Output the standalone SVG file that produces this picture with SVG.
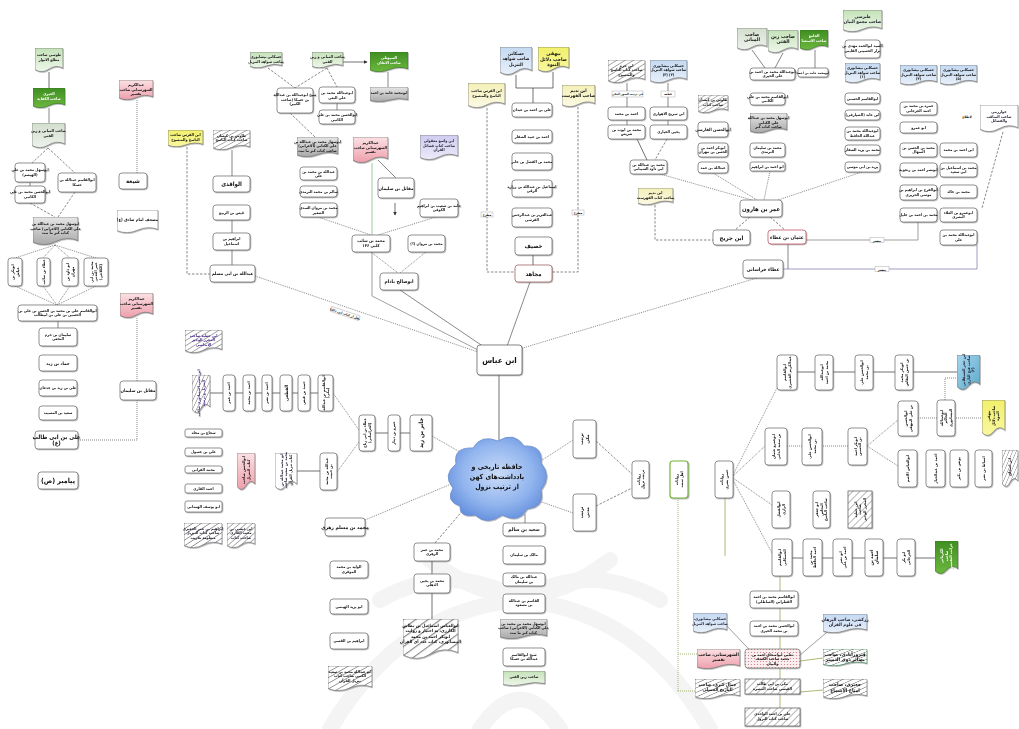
<svg xmlns="http://www.w3.org/2000/svg" width="1019" height="729" viewBox="0 0 1019 729">
<style>
.t{font-family:"DejaVu Sans Condensed","DejaVu Sans",sans-serif;font-size:3.8px;font-weight:bold;text-anchor:middle;fill:#111;direction:rtl}
.t45{font-size:4.5px}.t5{font-size:5px}.t6{font-size:6px}.t7{font-size:7px}.t8{font-size:8px}
.w{fill:#fff}.nv{fill:#223}.pu{fill:#4a2a8a}
.bx{fill:#fff;stroke:#666;stroke-width:.7}
.n{filter:url(#sh)}
.doc{stroke:#777;stroke-width:.7}
.lg{fill:url(#gLg)}.dg{fill:url(#gDg);stroke:#3d7a22}.gg{fill:url(#gGg)}.pk{fill:url(#gPk)}.yl{fill:url(#gYl)}.ly{fill:url(#gLy)}.lb{fill:url(#gLb)}.lv{fill:url(#gLv)}.gy{fill:url(#gGy)}.ht{fill:url(#hd)}.wh{fill:#fff}.cy{fill:url(#gCy)}
.hb{fill:url(#hb);stroke:#555;stroke-width:.7}
.pd{fill:url(#pd);stroke:#777;stroke-width:.7}
.lbl{fill:#fff;stroke:#999;stroke-width:.4}
.s{stroke:#333}.d{stroke-dasharray:2.5 1.5}.o{stroke-dasharray:1 1}.gd{stroke:#7a9a3a;stroke-dasharray:1 1}
</style>
<defs>
<filter id="sh" x="-20%" y="-20%" width="150%" height="150%"><feDropShadow dx=".8" dy=".8" stdDeviation=".4" flood-color="#777" flood-opacity=".6"/></filter>
<symbol id="doc" viewBox="0 0 100 100" preserveAspectRatio="none"><path d="M0,0H100V84Q75,68 50,88T0,90Z" vector-effect="non-scaling-stroke"/></symbol>
<pattern id="hd" width="16" height="16" patternUnits="userSpaceOnUse" patternTransform="rotate(45)"><rect width="16" height="16" fill="#fff"/><rect width="2.5" height="16" fill="#888"/></pattern>
<pattern id="hb" width="5" height="5" patternUnits="userSpaceOnUse" patternTransform="rotate(45)"><rect width="5" height="5" fill="#fff"/><rect width=".6" height="5" fill="#888"/></pattern>
<pattern id="pd" width="3" height="3" patternUnits="userSpaceOnUse"><rect width="3" height="3" fill="#fbeef0"/><circle cx="1.5" cy="1.5" r=".6" fill="#c77"/></pattern>
<linearGradient id="gLg" x1="0" y1="0" x2="0" y2="1"><stop offset="0" stop-color="#c4e2b8"/><stop offset="1" stop-color="#eef7ea"/></linearGradient>
<linearGradient id="gDg" x1="0" y1="0" x2="0" y2="1"><stop offset="0" stop-color="#3f8e22"/><stop offset="1" stop-color="#6cb83e"/></linearGradient>
<linearGradient id="gGg" x1="0" y1="0" x2="0" y2="1"><stop offset="0" stop-color="#d2dfcc"/><stop offset="1" stop-color="#eef2ec"/></linearGradient>
<linearGradient id="gPk" x1="0" y1="0" x2="0" y2="1"><stop offset="0" stop-color="#fbe1e4"/><stop offset="1" stop-color="#ee9fab"/></linearGradient>
<linearGradient id="gYl" x1="0" y1="0" x2="0" y2="1"><stop offset="0" stop-color="#f2f06a"/><stop offset="1" stop-color="#f8f7a0"/></linearGradient>
<linearGradient id="gLy" x1="0" y1="0" x2="0" y2="1"><stop offset="0" stop-color="#f5f0b8"/><stop offset="1" stop-color="#fbf9e4"/></linearGradient>
<linearGradient id="gLb" x1="0" y1="0" x2="0" y2="1"><stop offset="0" stop-color="#c4d9f2"/><stop offset="1" stop-color="#e8f0fa"/></linearGradient>
<linearGradient id="gLv" x1="0" y1="0" x2="0" y2="1"><stop offset="0" stop-color="#cfcbf0"/><stop offset="1" stop-color="#eceaf9"/></linearGradient>
<linearGradient id="gGy" x1="0" y1="0" x2="0" y2="1"><stop offset="0" stop-color="#e6e6e6"/><stop offset="1" stop-color="#a9a9a9"/></linearGradient>
<linearGradient id="gCy" x1="0" y1="0" x2="1" y2="1"><stop offset="0" stop-color="#a9d6f0"/><stop offset="1" stop-color="#5aa9c9"/></linearGradient>
<radialGradient id="gCl" cx=".5" cy=".45" r=".6"><stop offset="0" stop-color="#cadcf8"/><stop offset=".6" stop-color="#92b5ee"/><stop offset="1" stop-color="#5f8bdc"/></radialGradient>
<marker id="ar" markerWidth="4" markerHeight="4" refX="3.5" refY="2" orient="auto" markerUnits="userSpaceOnUse"><path d="M0,0L4,2L0,4Z" fill="#333"/></marker>
</defs>
<rect width="1019" height="729" fill="#fff"/>
<g id="watermark" fill="none" stroke="#f4f4f4" stroke-width="16" stroke-linecap="round">
<path d="M330,729Q400,610 520,600Q640,610 710,729"/>
<path d="M430,560Q520,630 610,560"/>
<path d="M480,729Q520,670 560,729"/>
<path d="M380,600Q450,560 520,600Q590,560 660,600"/>
</g>
<g id="connectors" fill="none" stroke="#555" stroke-width=".7">
<path class="s" d="M49,72V88"/>
<path d="M49,108V123" stroke="#888" stroke-width="1"/>
<path class="d" d="M48,148L32,163M48,148L75,173"/>
<path d="M30,182V186"/>
<path class="d" d="M30,203L55,217M75,192L58,217"/>
<path class="o" d="M55,245L15,258M55,245L43,258M55,245L70,258M55,245L96,258"/>
<path class="o" d="M15,286L57,305M43,286L57,305M70,286L57,305M96,286L57,305"/>
<path d="M58,321V328"/>
<path class="o" d="M137,100V173M137,318V381M137,400V440H78"/>
<path class="d" d="M187,147V274H210"/>
<path d="M232,150V176M232,220V233M232,250V265"/>
<path class="o" d="M255,276L478,352"/>
<path class="d" d="M268,68L295,88M327,68L295,88M327,68L337,87"/>
<path class="s" d="M343,62H367" marker-end="url(#ar)"/>
<path d="M388,72V87"/>
<path d="M337,103V110"/>
<path class="d" d="M290,113L315,137"/>
<path class="o" d="M318,217L371,235M436,217L378,235"/>
<path stroke="#9c9" stroke-width="1" d="M372,163V235"/>
<path stroke="#777" d="M372,252V296L480,351"/>
<path d="M378,160L396,178"/>
<path class="s" d="M395,203V215" marker-end="url(#ar)"/>
<path class="o" d="M371,252L398,273M426,252L400,273"/>
<path d="M400,290L487,349"/>
<path class="d" d="M487,108V272H515M578,107V272H552"/>
<path class="s" d="M516,75V88H533V103M553,72V88H533"/>
<path class="s" d="M533,255V265"/>
<path d="M530,282L506,349"/>
<path class="o" d="M757,278L516,350"/>
<path d="M627,83V91M627,97V107M668,83V91M668,97V107M627,120V125M668,120V125"/>
<path class="s" d="M637,139L647,160"/>
<path class="d" d="M667,139L655,160"/>
<path class="o" d="M660,174L752,200M713,173L757,200M770,171L764,200M862,172L778,200"/>
<path class="d" d="M655,205V240H713"/>
<path class="d" d="M750,217L735,230M770,217L785,230"/>
<path d="M752,50L765,68M783,53L775,68M815,50V68M795,73H798"/>
<path d="M788,244V269"/>
<path stroke="#77a" d="M783,269H977V245"/>
<path stroke="#777" d="M806,240H918V222"/>
<path class="d" d="M1003,132L982,208"/>
<path class="s" d="M499,375V441"/>
<path class="s" d="M210,393H318"/>
<path class="o" d="M333,393L359,430"/>
<path class="s" d="M375,433H410"/>
<path class="o" d="M432,436L460,452"/>
<path class="s" d="M297,471H320"/>
<path class="o" d="M337,472L359,442"/>
<path class="o" d="M365,520L456,482"/>
<path class="d" d="M435,543L470,502"/>
<path class="s" d="M432,561V619"/>
<path d="M525,514V523"/>
<path class="o" d="M530,468L573,440M536,500L573,513"/>
<path class="d" d="M596,441L632,474M596,506L632,488"/>
<path class="gd" d="M678,498V692M678,654H697M678,691H695"/>
<path stroke="#8a9a3a" d="M725,498V556"/>
<path class="o" d="M733,475L777,388M733,476L765,446M733,478L772,505M733,480L772,553"/>
<path class="s" d="M797,372H957"/>
<path class="o" d="M787,446H848M867,446L898,420M867,446L898,466"/>
<path class="o" d="M918,418H982M945,400V378H957"/>
<path class="s" d="M792,558H935"/>
<path stroke="#8a9a3a" d="M780,576V708"/>
<path stroke="#8a9a3a" d="M800,661L823,658M800,692L823,690"/>
<path stroke="#777" d="M800,655L832,628M727,626L760,661"/>
</g>
<g id="labels">
<g transform="rotate(18.5 345 314)"><rect class="lbl" x="330" y="311" width="30" height="5"/><text class="t" x="345" y="315" style="font-size:3.3px">نقل از کتاب ابی ذکلیا</text></g>
<rect class="lbl" x="481" y="212" width="12" height="5"/><text class="t" x="487" y="216" style="font-size:3.3px">مطرح</text>
<rect class="lbl" x="572" y="210" width="12" height="5"/><text class="t" x="578" y="214" style="font-size:3.3px">مطرح</text>
<rect class="lbl" x="870" y="237.5" width="14" height="5"/><text class="t" x="877" y="241.5" style="font-size:3.3px">بیشتر</text>
<rect class="lbl" x="875" y="266.5" width="14" height="5"/><text class="t" x="882" y="270.5" style="font-size:3.3px">بیشتر</text>
<rect class="lbl" x="612" y="91" width="31" height="6"/><text class="t" x="627.5" y="95.3" style="font-size:3px">فی ترتیب السور المکی</text>
<rect class="lbl" x="661" y="91" width="14" height="6"/><text class="t" x="668" y="95.3" style="font-size:3px">قطعه</text>
<text class="t" x="967" y="117.5" style="font-size:3.3px">لاطلاع</text>
</g>
<g id="n1" class="n"><use href="#doc" x="35" y="48" width="28" height="24" class="doc lg"/><text class="t" x="49" y="56"><tspan x="49">طوسی صاحب</tspan><tspan x="49" dy="4.5">مطلع الانوار</tspan></text></g>
<g id="n2" class="n"><use href="#doc" x="33" y="88" width="32" height="20" class="doc dg"/><text class="t w" x="49" y="95"><tspan x="49">الحیری</tspan><tspan x="49" dy="4.5">صاحب الکفایة</tspan></text></g>
<g id="n3" class="n"><use href="#doc" x="32" y="123" width="33" height="25" class="doc gg"/><text class="t" x="48.5" y="132"><tspan x="48.5">صاحب المبانی و زین</tspan><tspan x="48.5" dy="4.5">الفتی</tspan></text></g>
<g id="n4" class="n"><rect class="bx" x="15" y="163" width="30" height="19" rx="3"/><text class="t" x="30" y="171"><tspan x="30">ابوسهل محمد بن علی</tspan><tspan x="30" dy="4.5">(الهیصم)</tspan></text></g>
<g id="n5" class="n"><rect class="bx" x="15" y="186" width="30" height="17" rx="3"/><text class="t" x="30" y="193"><tspan x="30">ابوالحسن محمد بن علی</tspan><tspan x="30" dy="4.5">الکاتبی</tspan></text></g>
<g id="n6" class="n"><rect class="bx" x="58" y="173" width="38" height="19" rx="3"/><text class="t" x="77" y="181"><tspan x="77">ابوالقاسم عبدالله بن</tspan><tspan x="77" dy="4.5">حسکا</tspan></text></g>
<g id="n7" class="n"><use href="#doc" x="33" y="217" width="45" height="28" class="doc gy"/><text class="t" x="55.5" y="225"><tspan x="55.5">ابوسهل محمد بن عبدالله بن</tspan><tspan x="55.5" dy="4.5">علی الکتانی (الاعرابی) صاحب</tspan><tspan x="55.5" dy="4.5">کتاب کنز ما ثبت</tspan></text></g>
<g id="n8" class="n"><rect class="bx" x="8" y="258" width="14" height="28" rx="3"/><text class="t" transform="rotate(-90 15 272)" x="15" y="271"><tspan x="15">ابوبکر بن</tspan><tspan x="15" dy="4.5">عیاش</tspan></text></g>
<g id="n9" class="n"><rect class="bx" x="37" y="258" width="13" height="28" rx="3"/><text class="t" transform="rotate(-90 43.5 272)" x="43.5" y="273.3">عطاء بن سائب</text></g>
<g id="n10" class="n"><rect class="bx" x="62" y="258" width="16" height="28" rx="3"/><text class="t" transform="rotate(-90 70 272)" x="70" y="271"><tspan x="70">ابو داود بن</tspan><tspan x="70" dy="4.5">مهران</tspan></text></g>
<g id="n11" class="n"><rect class="bx" x="84" y="258" width="24" height="28" rx="3"/><text class="t" transform="rotate(-90 96 272)" x="96" y="268.8"><tspan x="96">محمد بن ابی</tspan><tspan x="96" dy="4.5">عمر العدنی</tspan><tspan x="96" dy="4.5">(الکلاعی)</tspan></text></g>
<g id="n12" class="n"><rect class="bx" x="18" y="305" width="79" height="16" rx="3"/><text class="t" x="57.5" y="311.5"><tspan x="57.5">ابوالقاسم علی بن محمد بن الحسن بن علی بن</tspan><tspan x="57.5" dy="4.5">الحسین بن علی بن ابیطالب</tspan></text></g>
<g id="n13" class="n"><rect class="bx" x="39" y="328" width="38" height="18" rx="3"/><text class="t" x="58" y="335.5"><tspan x="58">سلیمان بن حرم</tspan><tspan x="58" dy="4.5">النخعی</tspan></text></g>
<g id="n14" class="n"><rect class="bx" x="39" y="355" width="38" height="16" rx="3"/><text class="t t45" x="58" y="364.5">حماد بن زید</text></g>
<g id="n15" class="n"><rect class="bx" x="39" y="380" width="38" height="16" rx="3"/><text class="t" x="58" y="389.3">علی بن زید بن جدعان</text></g>
<g id="n16" class="n"><rect class="bx" x="39" y="406" width="38" height="14" rx="3"/><text class="t" x="58" y="414.3">سعید بن المسیب</text></g>
<g id="n17" class="n"><rect class="bx" x="35" y="431" width="43" height="18" rx="3"/><text class="t t6" x="56.5" y="438.5"><tspan x="56.5">علی بن ابی طالب</tspan><tspan x="56.5" dy="6.5">(ع)</tspan></text></g>
<g id="n18" class="n"><rect class="bx" x="38" y="472" width="40" height="17" rx="3"/><text class="t t7" x="58" y="483">پیامبر (ص)</text></g>
<g id="n19" class="n"><use href="#doc" x="119" y="80" width="34" height="20" class="doc pk"/><text class="t" x="136" y="86"><tspan x="136">عبدالکریم</tspan><tspan x="136" dy="4.5">الشهرستانی صاحب</tspan><tspan x="136" dy="4.5">تفسیر</tspan></text></g>
<g id="n20" class="n"><rect class="bx" x="119" y="173" width="28" height="16" rx="3"/><text class="t t6" x="133" y="183">شیعة</text></g>
<g id="n21" class="n"><use href="#doc" x="117" y="210" width="41" height="23" class="doc wh"/><text class="t" x="137.5" y="220.5" style="font-size:4.2px">مصحف امام صادق (ع)</text></g>
<g id="n22" class="n"><use href="#doc" x="120" y="293" width="33" height="25" class="doc pk"/><text class="t" x="136.5" y="300"><tspan x="136.5">عبدالکریم</tspan><tspan x="136.5" dy="4.5">الشهرستانی صاحب</tspan><tspan x="136.5" dy="4.5">تفسیر</tspan></text></g>
<g id="n23" class="n"><rect class="bx" x="120" y="381" width="36" height="19" rx="3"/><text class="t t45" x="138" y="392">مقاتل بن سلیمان</text></g>
<g id="n24" class="n"><use href="#doc" x="168" y="130" width="35" height="17" class="doc yl"/><text class="t" x="185.5" y="136"><tspan x="185.5">ابن الفرس صاحب</tspan><tspan x="185.5" dy="4.5">الناسخ والمنسوخ</tspan></text></g>
<g id="n25" class="n"><use href="#doc" x="213" y="130" width="37" height="20" class="doc ht"/><text class="t" x="231.5" y="136.5"><tspan x="231.5">طاوس بن کیسان</tspan><tspan x="231.5" dy="4.5">صاحب کتاب الناسخ</tspan></text></g>
<g id="n26" class="n"><rect class="bx" x="213" y="176" width="37" height="16" rx="3"/><text class="t t6" x="231.5" y="186.3">الواقدی</text></g>
<g id="n27" class="n"><rect class="bx" x="213" y="205" width="37" height="15" rx="3"/><text class="t" x="231.5" y="213.8">قیس بن الربیع</text></g>
<g id="n28" class="n"><rect class="bx" x="213" y="233" width="37" height="17" rx="3"/><text class="t" x="231.5" y="240"><tspan x="231.5">ابراهیم بن</tspan><tspan x="231.5" dy="4.5">اسماعیل</tspan></text></g>
<g id="n29" class="n"><rect class="bx" x="210" y="265" width="45" height="17" rx="3"/><text class="t t45" x="232.5" y="275">عبدالله بن ابی مسلم</text></g>
<g id="n30" class="n"><use href="#doc" x="250" y="52" width="32" height="16" class="doc lg"/><text class="t" x="266" y="58"><tspan x="266">حسکانی نیشابوری</tspan><tspan x="266" dy="4.5">صاحب شواهد التنزیل</tspan></text></g>
<g id="n31" class="n"><use href="#doc" x="312" y="52" width="31" height="16" class="doc lg"/><text class="t" x="327.5" y="58"><tspan x="327.5">صاحب المبانی و زین</tspan><tspan x="327.5" dy="4.5">الفتی</tspan></text></g>
<g id="n32" class="n"><use href="#doc" x="370" y="52" width="38" height="20" class="doc dg"/><text class="t w" x="389" y="59"><tspan x="389">السیوطی</tspan><tspan x="389" dy="4.5">صاحب الاتقان</tspan></text></g>
<g id="n33" class="n"><use href="#doc" x="370" y="87" width="38" height="15" class="doc gy"/><text class="t" x="389" y="94">ابومحمد حامد بن احمد</text></g>
<g id="n34" class="n"><rect class="bx" x="277" y="88" width="36" height="25" rx="3"/><text class="t" x="295" y="96"><tspan x="295">شیخ ابوعبدالله بن عبدالله</tspan><tspan x="295" dy="4.5">بن حسکا (صاحب</tspan><tspan x="295" dy="4.5">الکبیر)</tspan></text></g>
<g id="n35" class="n"><rect class="bx" x="319" y="87" width="36" height="16" rx="3"/><text class="t" x="337" y="94"><tspan x="337">ابوعبدالله محمد بن</tspan><tspan x="337" dy="4.5">علی البغی</tspan></text></g>
<g id="n36" class="n"><rect class="bx" x="319" y="110" width="36" height="14" rx="3"/><text class="t" x="337" y="116"><tspan x="337">ابوالحسن محمد بن علی</tspan><tspan x="337" dy="4.5">الکاتبی</tspan></text></g>
<g id="n37" class="n"><use href="#doc" x="297" y="137" width="41" height="20" class="doc gy"/><text class="t" x="317.5" y="142.5"><tspan x="317.5">ابوسهل محمد بن عبدالله بن</tspan><tspan x="317.5" dy="4.5">علی الکتانی (الاعرابی)</tspan><tspan x="317.5" dy="4.5">صاحب کتاب کنز ما ثبت</tspan></text></g>
<g id="n38" class="n"><rect class="bx" x="300" y="167" width="37" height="13" rx="3"/><text class="t" x="318.5" y="172.5"><tspan x="318.5">عبدالله بن محمد بن</tspan><tspan x="318.5" dy="4.2">علی</tspan></text></g>
<g id="n39" class="n"><rect class="bx" x="300" y="186" width="37" height="11" rx="3"/><text class="t" x="318.5" y="192.8">سالم بن محمد الترمذی</text></g>
<g id="n40" class="n"><rect class="bx" x="300" y="203" width="37" height="14" rx="3"/><text class="t" x="318.5" y="209"><tspan x="318.5">محمد بن مروان السدی</tspan><tspan x="318.5" dy="4.5">الصغیر</tspan></text></g>
<g id="n41" class="n"><use href="#doc" x="353" y="137" width="35" height="26" class="doc pk"/><text class="t" x="370.5" y="144"><tspan x="370.5">عبدالکریم</tspan><tspan x="370.5" dy="4.5">الشهرستانی صاحب</tspan><tspan x="370.5" dy="4.5">تفسیر</tspan></text></g>
<g id="n42" class="n"><use href="#doc" x="420" y="135" width="38" height="25" class="doc lv"/><text class="t nv" x="439" y="142"><tspan x="439">ابن واسع معقولی</tspan><tspan x="439" dy="4.5">صاحب کتاب فضائل</tspan><tspan x="439" dy="4.5">القرآن</tspan></text></g>
<g id="n43" class="n"><rect class="bx" x="378" y="178" width="36" height="20" rx="3"/><text class="t t45" x="396" y="189.5">مقاتل بن سلیمان</text></g>
<g id="n44" class="n"><rect class="bx" x="420" y="199" width="38" height="18" rx="3"/><text class="t" x="439" y="206.5"><tspan x="439">حامد بن شعیب بن ابراهیم</tspan><tspan x="439" dy="4.5">الکوفی</tspan></text></g>
<g id="n45" class="n"><rect class="bx" x="352" y="235" width="38" height="17" rx="3"/><text class="t" x="371" y="242" style="font-size:4.2px"><tspan x="371">محمد بن سائب</tspan><tspan x="371" dy="4.7">کلبی ۱۴۶</tspan></text></g>
<g id="n46" class="n"><rect class="bx" x="408" y="235" width="37" height="17" rx="3"/><text class="t" x="426.5" y="244.8">محمد بن مروان (؟)</text></g>
<g id="n47" class="n"><rect class="bx" x="380" y="273" width="38" height="17" rx="3"/><text class="t t5" x="399" y="283.3">ابوصالح باذام</text></g>
<g id="n48" class="n"><use href="#doc" x="468" y="83" width="37" height="25" class="doc ly"/><text class="t" x="486.5" y="92"><tspan x="486.5">ابن الفرس صاحب</tspan><tspan x="486.5" dy="4.5">الناسخ والمنسوخ</tspan></text></g>
<g id="n49" class="n"><use href="#doc" x="500" y="47" width="32" height="28" class="doc lb"/><text class="t t45" x="516" y="55"><tspan x="516">حسکانی</tspan><tspan x="516" dy="5.3">صاحب شواهد</tspan><tspan x="516" dy="5.3">التنزیل</tspan></text></g>
<g id="n50" class="n"><use href="#doc" x="538" y="47" width="31" height="25" class="doc yl"/><text class="t t5" x="553.5" y="55"><tspan x="553.5">بیهقی</tspan><tspan x="553.5" dy="5.5">صاحب دلائل</tspan><tspan x="553.5" dy="5.5">النبوة</tspan></text></g>
<g id="n51" class="n"><use href="#doc" x="562" y="85" width="33" height="22" class="doc ly"/><text class="t t45" x="578.5" y="92"><tspan x="578.5">ابن ندیم</tspan><tspan x="578.5" dy="5">صاحب الفهرست</tspan></text></g>
<g id="n52" class="n"><rect class="bx" x="512" y="103" width="40" height="14" rx="3"/><text class="t" x="532" y="111.3">علی بن احمد بن عبدان</text></g>
<g id="n53" class="n"><rect class="bx" x="512" y="130" width="40" height="13" rx="3"/><text class="t" x="532" y="137.8">احمد بن عبید الصفار</text></g>
<g id="n54" class="n"><rect class="bx" x="512" y="153" width="40" height="17" rx="3"/><text class="t" x="532" y="162.8">محمد بن الفضل بن جابر</text></g>
<g id="n55" class="n"><rect class="bx" x="512" y="180" width="40" height="17" rx="3"/><text class="t" x="532" y="187.5"><tspan x="532">اسماعیل بن عبدالله بن زرارة</tspan><tspan x="532" dy="4.5">الرقی</tspan></text></g>
<g id="n56" class="n"><rect class="bx" x="512" y="208" width="40" height="19" rx="3"/><text class="t" x="532" y="216"><tspan x="532">عبدالعزیز بن عبدالرحمن</tspan><tspan x="532" dy="4.5">القرشی</tspan></text></g>
<g id="n57" class="n"><rect class="bx" x="515" y="237" width="37" height="18" rx="3"/><text class="t t6" x="533.5" y="248">خصیف</text></g>
<g id="n58" class="n"><rect class="bx" x="515" y="265" width="37" height="17" rx="3" style="stroke:#955"/><text class="t t6" x="533.5" y="275.5">مجاهد</text></g>
<g id="n59" class="n"><use href="#doc" x="608" y="60" width="37" height="23" class="doc ht"/><text class="t" x="626.5" y="66.5"><tspan x="626.5">ابن حزم</tspan><tspan x="626.5" dy="4.5">صاحب کتاب الناسخ</tspan><tspan x="626.5" dy="4.5">والمنسوخ</tspan></text></g>
<g id="n60" class="n"><use href="#doc" x="650" y="60" width="37" height="23" class="doc lb"/><text class="t" x="668.5" y="66.5"><tspan x="668.5">حسکانی نیشابوری</tspan><tspan x="668.5" dy="4.5">صاحب شواهد التنزیل</tspan><tspan x="668.5" dy="4.5">(۲) (۳)</tspan></text></g>
<g id="n61" class="n"><rect class="bx" x="608" y="107" width="37" height="13" rx="3"/><text class="t" x="626.5" y="114.8">احمد بن محمد</text></g>
<g id="n62" class="n"><rect class="bx" x="608" y="125" width="37" height="14" rx="3"/><text class="t" x="626.5" y="130.5"><tspan x="626.5">محمد بن ایوب بن</tspan><tspan x="626.5" dy="4.5">ضریس</tspan></text></g>
<g id="n63" class="n"><rect class="bx" x="650" y="107" width="37" height="13" rx="3"/><text class="t" x="668.5" y="114.8">ابن سریج الاهوازی</text></g>
<g id="n64" class="n"><rect class="bx" x="650" y="125" width="37" height="14" rx="3"/><text class="t" x="668.5" y="133.3">یحیی الجیاری</text></g>
<g id="n65" class="n"><rect class="bx" x="630" y="160" width="37" height="14" rx="3"/><text class="t" x="648.5" y="165.5"><tspan x="648.5">محمد بن عبدالله بن</tspan><tspan x="648.5" dy="4.5">ابی داود الشیبانی</tspan></text></g>
<g id="n66" class="n"><use href="#doc" x="698" y="95" width="30" height="18" class="doc ht"/><text class="t" x="713" y="101"><tspan x="713">طاوس بن کیسان</tspan><tspan x="713" dy="4.5">صاحب کتاب</tspan></text></g>
<g id="n67" class="n"><rect class="bx" x="698" y="122" width="30" height="15" rx="3"/><text class="t" x="713" y="131" style="font-size:4.2px">ابوالحسن الفارسی</text></g>
<g id="n68" class="n"><rect class="bx" x="698" y="143" width="30" height="14" rx="3"/><text class="t" x="713" y="148.5"><tspan x="713">ابوبکر احمد بن</tspan><tspan x="713" dy="4.5">الحسن بن مهران</tspan></text></g>
<g id="n69" class="n"><rect class="bx" x="698" y="162" width="30" height="11" rx="3"/><text class="t" x="713" y="168.8">عبدالله بن حمد</text></g>
<g id="n70" class="n"><use href="#doc" x="638" y="188" width="35" height="17" class="doc ly"/><text class="t" x="655.5" y="194"><tspan x="655.5">ابن ندیم</tspan><tspan x="655.5" dy="4.5">صاحب کتاب الفهرست</tspan></text></g>
<g id="n71" class="n"><use href="#doc" x="737" y="28" width="30" height="22" class="doc gg"/><text class="t t5" x="752" y="35.5"><tspan x="752">صاحب</tspan><tspan x="752" dy="5.5">المبانی</tspan></text></g>
<g id="n72" class="n"><use href="#doc" x="768" y="30" width="30" height="23" class="doc lg"/><text class="t t5" x="783" y="37.5"><tspan x="783">صاحب زین</tspan><tspan x="783" dy="5.5">الفتی</tspan></text></g>
<g id="n73" class="n"><use href="#doc" x="800" y="30" width="28" height="20" class="doc dg"/><text class="t w" x="814" y="37"><tspan x="814">الجامع</tspan><tspan x="814" dy="4.5">صاحب الاستغنا</tspan></text></g>
<g id="n74" class="n"><rect class="bx" x="750" y="68" width="45" height="12" rx="3"/><text class="t" x="772.5" y="72.6"><tspan x="772.5">ابوعبدالله محمد بن احمد بن</tspan><tspan x="772.5" dy="4.3">علی الحیری</tspan></text></g>
<g id="n75" class="n"><rect class="bx" x="798" y="68" width="30" height="9" rx="2"/><text class="t" x="813" y="73.8" style="font-size:3.3px">ابومحمد حامد بن احمد</text></g>
<g id="n76" class="n"><rect class="bx" x="750" y="93" width="35" height="12" rx="3"/><text class="t" x="767.5" y="97.8"><tspan x="767.5">ابوالقاسم محمد بن علی</tspan><tspan x="767.5" dy="4.3">الکاتبی</tspan></text></g>
<g id="n77" class="n"><use href="#doc" x="750" y="113" width="37" height="20" class="doc gy"/><text class="t" x="768.5" y="119"><tspan x="768.5">ابوسهل محمد بن عبدالله</tspan><tspan x="768.5" dy="4.5">علی الکتانی</tspan><tspan x="768.5" dy="4.5">صاحب کتاب کنز</tspan></text></g>
<g id="n78" class="n"><rect class="bx" x="750" y="143" width="35" height="14" rx="3"/><text class="t" x="767.5" y="148.5"><tspan x="767.5">محمد بن سلیمان</tspan><tspan x="767.5" dy="4.5">الترمذی</tspan></text></g>
<g id="n79" class="n"><rect class="bx" x="750" y="162" width="35" height="9" rx="2"/><text class="t" x="767.5" y="167.8">ابو احمد بن ابراهیم</text></g>
<g id="n80" class="n"><rect class="bx" x="740" y="200" width="42" height="17" rx="3"/><text class="t t6" x="761" y="210.5">عمر بن هارون</text></g>
<g id="n81" class="n"><rect class="bx" x="713" y="230" width="37" height="15" rx="3"/><text class="t t6" x="731.5" y="239.8">ابن جریج</text></g>
<g id="n82" class="n"><rect class="bx" x="768" y="230" width="38" height="14" rx="3" style="stroke:#b45"/><text class="t t5" x="787" y="239">عثمان بن عطاء</text></g>
<g id="n83" class="n"><rect class="bx" x="743" y="260" width="40" height="18" rx="3"/><text class="t t5" x="763" y="270.8">عطاء خراسانی</text></g>
<g id="n84" class="n"><use href="#doc" x="843" y="10" width="39" height="22" class="doc lg"/><text class="t t45 nv" x="862.5" y="17.5"><tspan x="862.5">طبرسی</tspan><tspan x="862.5" dy="5">صاحب مجمع البیان</tspan></text></g>
<g id="n85" class="n"><rect class="bx" x="845" y="40" width="35" height="18" rx="3"/><text class="t" x="862.5" y="47"><tspan x="862.5">السید ابوالحمد مهدی بن</tspan><tspan x="862.5" dy="4.5">نزار الحسینی القاینی</tspan></text></g>
<g id="n86" class="n"><use href="#doc" x="845" y="63" width="35" height="20" class="doc lb"/><text class="t" x="862.5" y="69"><tspan x="862.5">حسکانی نیشابوری</tspan><tspan x="862.5" dy="4.5">صاحب شواهد التنزیل</tspan><tspan x="862.5" dy="4.5">(۱)</tspan></text></g>
<g id="n87" class="n"><rect class="bx" x="845" y="93" width="35" height="11" rx="3"/><text class="t" x="862.5" y="99.8">ابوالقاسم الحسنی</text></g>
<g id="n88" class="n"><rect class="bx" x="845" y="110" width="35" height="10" rx="3"/><text class="t" x="862.5" y="116.3">ابن عابد (الصیارفی)</text></g>
<g id="n89" class="n"><rect class="bx" x="845" y="127" width="35" height="13" rx="3"/><text class="t" x="862.5" y="132.3"><tspan x="862.5">ابوعبدالله محمد بن</tspan><tspan x="862.5" dy="4.3">عبدالله الحافظ</tspan></text></g>
<g id="n90" class="n"><rect class="bx" x="845" y="145" width="35" height="10" rx="3"/><text class="t" x="862.5" y="151.3">محمد بن یزید الصفار</text></g>
<g id="n91" class="n"><rect class="bx" x="845" y="162" width="35" height="10" rx="3"/><text class="t" x="862.5" y="168.3">یزید بن ابی موسی</text></g>
<g id="n92" class="n"><use href="#doc" x="900" y="65" width="37" height="20" class="doc lb"/><text class="t" x="918.5" y="71"><tspan x="918.5">حسکانی نیشابوری</tspan><tspan x="918.5" dy="4.5">صاحب شواهد التنزیل</tspan><tspan x="918.5" dy="4.5">(۴)</tspan></text></g>
<g id="n93" class="n"><use href="#doc" x="940" y="65" width="37" height="20" class="doc lb"/><text class="t" x="958.5" y="71"><tspan x="958.5">حسکانی نیشابوری</tspan><tspan x="958.5" dy="4.5">صاحب شواهد التنزیل</tspan><tspan x="958.5" dy="4.5">(۵)</tspan></text></g>
<g id="n94" class="n"><rect class="bx" x="900" y="102" width="37" height="13" rx="3"/><text class="t" x="918.5" y="107.3"><tspan x="918.5">حمزة بن محمد بن</tspan><tspan x="918.5" dy="4.3">احمد الجرجانی</tspan></text></g>
<g id="n95" class="n"><rect class="bx" x="900" y="122" width="37" height="11" rx="3"/><text class="t" x="918.5" y="128.8">ابو عمرو</text></g>
<g id="n96" class="n"><rect class="bx" x="900" y="143" width="37" height="14" rx="3"/><text class="t" x="918.5" y="148.5"><tspan x="918.5">محمد بن الحسن بن</tspan><tspan x="918.5" dy="4.5">المنهال</tspan></text></g>
<g id="n97" class="n"><rect class="bx" x="900" y="163" width="37" height="14" rx="3"/><text class="t" x="918.5" y="171.3">ابونصر احمد بن زنجویه</text></g>
<g id="n98" class="n"><rect class="bx" x="900" y="185" width="37" height="15" rx="3"/><text class="t" x="918.5" y="191"><tspan x="918.5">ابوالفرج بن ابراهیم بن</tspan><tspan x="918.5" dy="4.5">موسی الحریری</tspan></text></g>
<g id="n99" class="n"><rect class="bx" x="900" y="208" width="37" height="14" rx="3"/><text class="t" x="918.5" y="216.3">محمد بن احمد بن خلیل</text></g>
<g id="n101" class="n"><use href="#doc" x="980" y="105" width="38" height="27" class="doc wh"/><text class="t nv" x="999" y="113"><tspan x="999">خوارزمی</tspan><tspan x="999" dy="4.5">صاحب المناقب</tspan><tspan x="999" dy="4.5">والفضائل</tspan></text></g>
<g id="n102" class="n"><rect class="bx" x="940" y="143" width="37" height="14" rx="3"/><text class="t" x="958.5" y="151.3">ابن احمد بن محمد</text></g>
<g id="n103" class="n"><rect class="bx" x="940" y="163" width="37" height="14" rx="3"/><text class="t" x="958.5" y="168.5"><tspan x="958.5">محمد بن اسماعیل بن</tspan><tspan x="958.5" dy="4.5">ابی سعید</tspan></text></g>
<g id="n104" class="n"><rect class="bx" x="940" y="185" width="37" height="13" rx="3"/><text class="t" x="958.5" y="192.8">محمد بن خالد</text></g>
<g id="n105" class="n"><rect class="bx" x="940" y="208" width="37" height="14" rx="3"/><text class="t" x="958.5" y="213.5"><tspan x="958.5">ابوعمرو بن العلاء</tspan><tspan x="958.5" dy="4.5">البصری</tspan></text></g>
<g id="n106" class="n"><rect class="bx" x="940" y="230" width="37" height="15" rx="3"/><text class="t" x="958.5" y="236"><tspan x="958.5">ابوعبدالله محمد بن</tspan><tspan x="958.5" dy="4.5">علی</tspan></text></g>
<g id="n107" class="n"><rect class="bx" x="477" y="345" width="45" height="30" rx="3" style="stroke:#555"/><text class="t t8" x="499.5" y="363">ابن عباس</text></g>
<g id="n108" class="n"><path d="M460,506Q445,501 453,488Q442,475 456,464Q453,447 473,448Q481,434 498,441Q514,431 524,446Q543,445 541,463Q552,476 541,490Q545,507 527,509Q519,524 502,515Q487,526 475,515Q459,518 460,506Z" fill="url(#gCl)" stroke="#6f8fd0" stroke-width=".8"/><text class="t t7" x="497" y="469"><tspan x="497">حافظه تاریخی و</tspan><tspan x="497" dy="10">یادداشت‌های کهن</tspan><tspan x="497" dy="10">از ترتیب نزول</tspan></text></g>
<g id="n109" class="n"><use href="#doc" x="185" y="330" width="37" height="23" class="doc ht"/><text class="t pu" x="203.5" y="336.5"><tspan x="203.5">ابن عطیة صاحب</tspan><tspan x="203.5" dy="4.5">المحرر الوجیز</tspan><tspan x="203.5" dy="4.5">الاندلسی</tspan></text></g>
<g id="n110" class="n"><use href="#doc" x="192" y="375" width="18" height="38" class="doc ht"/><text class="t pu" transform="rotate(-90 201 393)" x="201" y="392"><tspan x="201">ابن حبیب النیسابوری صاحب</tspan><tspan x="201" dy="4.5">التنزیل و ترتیبه</tspan></text></g>
<g id="n111" class="n"><rect class="bx" x="223" y="375" width="12" height="36" rx="3"/><text class="t" transform="rotate(-90 229 393)" x="229" y="394.3">احمد بن عمر</text></g>
<g id="n112" class="n"><rect class="bx" x="243" y="375" width="12" height="36" rx="3"/><text class="t" transform="rotate(-90 249 393)" x="249" y="394.3">احمد بن محمد</text></g>
<g id="n113" class="n"><rect class="bx" x="262" y="375" width="10" height="36" rx="3"/><text class="t" transform="rotate(-90 267 393)" x="267" y="394.3">احمد بن نصر</text></g>
<g id="n114" class="n"><rect class="bx" x="280" y="375" width="12" height="36" rx="3"/><text class="t t45" transform="rotate(-90 286 393)" x="286" y="394.6">القطعی</text></g>
<g id="n115" class="n"><rect class="bx" x="298" y="375" width="12" height="36" rx="3"/><text class="t" transform="rotate(-90 304 393)" x="304" y="394.3">حمید بن قیس</text></g>
<g id="n116" class="n"><rect class="bx" x="318" y="375" width="15" height="36" rx="3"/><text class="t" transform="rotate(-90 325.5 393)" x="325.5" y="392"><tspan x="325.5">ابوالقاسم بن عبدالله</tspan><tspan x="325.5" dy="4.5">(مکی)</tspan></text></g>
<g id="n117" class="n"><rect class="bx" x="359" y="415" width="16" height="36" rx="3"/><text class="t" transform="rotate(-90 367 433)" x="367" y="432"><tspan x="367">عطاء بن ابی رباح</tspan><tspan x="367" dy="4.5">(الخراسانی)</tspan></text></g>
<g id="n118" class="n"><rect class="bx" x="388" y="415" width="12" height="36" rx="3"/><text class="t" transform="rotate(-90 394 433)" x="394" y="434.3">عمرو بن دینار</text></g>
<g id="n119" class="n"><rect class="bx" x="410" y="415" width="22" height="36" rx="3"/><text class="t t6" transform="rotate(-90 421 433)" x="421" y="435">جابر بن زید</text></g>
<g id="n120" class="n"><rect class="bx" x="185" y="429" width="37" height="8" rx="2"/><text class="t" x="203.5" y="434.3">شجاع بن مخلد</text></g>
<g id="n121" class="n"><rect class="bx" x="185" y="448" width="37" height="8" rx="2"/><text class="t" x="203.5" y="453.3">علی بن عسول</text></g>
<g id="n122" class="n"><rect class="bx" x="185" y="466" width="37" height="7" rx="2"/><text class="t" x="203.5" y="470.8">محمد الفراتی</text></g>
<g id="n123" class="n"><rect class="bx" x="185" y="484" width="37" height="9" rx="2"/><text class="t" x="203.5" y="489.8">احمد القاری</text></g>
<g id="n124" class="n"><rect class="bx" x="185" y="501" width="37" height="11" rx="2"/><text class="t" x="203.5" y="507.8">ابو یوسف الهمدانی</text></g>
<g id="n125" class="n"><use href="#doc" x="237" y="453" width="18" height="37" class="doc pk"/><text class="t" transform="rotate(-90 246 470)" x="246" y="469"><tspan x="246">ابوالحسن صاحب</tspan><tspan x="246" dy="4.5">کتاب التنزیل</tspan></text></g>
<g id="n126" class="n"><use href="#doc" x="275" y="453" width="22" height="37" class="doc wh"/><text class="t nv" transform="rotate(-90 286 470)" x="286" y="466.8"><tspan x="286">ابو محمد عبدالله بن</tspan><tspan x="286" dy="4.5">محمد بن سعید صاحب</tspan><tspan x="286" dy="4.5">کتاب تنزیل القرآن</tspan></text></g>
<g id="n127" class="n"><rect class="bx" x="320" y="453" width="17" height="37" rx="3"/><text class="t" transform="rotate(-90 328.5 471.5)" x="328.5" y="470.5"><tspan x="328.5">عبدالله بن محمد</tspan><tspan x="328.5" dy="4.5">بن حبیب</tspan></text></g>
<g id="n128" class="n"><use href="#doc" x="184" y="523" width="38" height="25" class="doc ht"/><text class="t nv" x="203" y="529.5"><tspan x="203">ابراهیم بن عمر الجعبری</tspan><tspan x="203" dy="4.5">صاحب کتاب التنزیل</tspan><tspan x="203" dy="4.5">منظومة تقریب</tspan></text></g>
<g id="n129" class="n"><use href="#doc" x="227" y="523" width="28" height="25" class="doc ht"/><text class="t nv" x="241" y="529.5"><tspan x="241">ابن عیسی بن</tspan><tspan x="241" dy="4.5">محمد القاری</tspan><tspan x="241" dy="4.5">صاحب کتاب</tspan></text></g>
<g id="n130" class="n"><rect class="bx" x="325" y="518" width="40" height="18" rx="3"/><text class="t t5" x="345" y="528.8">محمد بن مسلم زهری</text></g>
<g id="n131" class="n"><rect class="bx" x="330" y="561" width="38" height="17" rx="3"/><text class="t" x="349" y="568"><tspan x="349">الولید بن محمد</tspan><tspan x="349" dy="4.5">الموقری</tspan></text></g>
<g id="n132" class="n"><rect class="bx" x="330" y="599" width="38" height="15" rx="3"/><text class="t" x="349" y="607.8">ابو یزید الهیثمی</text></g>
<g id="n133" class="n"><rect class="bx" x="330" y="633" width="38" height="16" rx="3"/><text class="t" x="349" y="642.3">ابراهیم بن القسی</text></g>
<g id="n134" class="n"><use href="#doc" x="328" y="666" width="44" height="25" class="doc ht"/><text class="t" x="350" y="672.5"><tspan x="350">ابو عبدالله محمد بن سعید</tspan><tspan x="350" dy="4.5">الکتبی صاحب کتاب</tspan><tspan x="350" dy="4.5">تنزیل القرآن</tspan></text></g>
<g id="n135" class="n"><rect class="bx" x="414" y="543" width="36" height="18" rx="3"/><text class="t" x="432" y="550.5"><tspan x="432">محمد بن عمر</tspan><tspan x="432" dy="4.5">الزهری</tspan></text></g>
<g id="n136" class="n"><rect class="bx" x="414" y="574" width="36" height="19" rx="3"/><text class="t" x="432" y="581.5"><tspan x="432">محمد بن یحیی</tspan><tspan x="432" dy="4.5">الذهلی</tspan></text></g>
<g id="n137" class="n"><use href="#doc" x="403" y="619" width="55" height="40" class="doc ht"/><text class="t" x="430.5" y="627" style="font-size:4.3px"><tspan x="430.5">ابوالعباس اسماعیل بن بطاش</tspan><tspan x="430.5" dy="5.3">الکازری، به اختیار و روایت</tspan><tspan x="430.5" dy="5.3">ابوبکر احمد بن محمد</tspan><tspan x="430.5" dy="5.3">النیسابوری، کتاب عدد آی القرآن</tspan></text></g>
<g id="n138" class="n"><rect class="bx" x="503" y="523" width="42" height="13" rx="3"/><text class="t t5" x="524" y="531.3">سعید بن سالم</text></g>
<g id="n139" class="n"><rect class="bx" x="503" y="546" width="42" height="18" rx="3"/><text class="t" x="524" y="556.3">مالک بن سلیمان</text></g>
<g id="n140" class="n"><rect class="bx" x="503" y="573" width="42" height="13" rx="3"/><text class="t" x="524" y="578.3"><tspan x="524">عبدالله بن مالک</tspan><tspan x="524" dy="4.3">بن سلیمان</tspan></text></g>
<g id="n141" class="n"><rect class="bx" x="503" y="594" width="42" height="19" rx="3"/><text class="t" x="524" y="601.5"><tspan x="524">القاسم بن عبدالله</tspan><tspan x="524" dy="4.5">بن مسعود</tspan></text></g>
<g id="n142" class="n"><use href="#doc" x="500" y="619" width="47" height="20" class="doc gy"/><text class="t" x="523.5" y="624.5"><tspan x="523.5">ابوسهل محمد بن محمد بن</tspan><tspan x="523.5" dy="4.5">علی الکتانی (الاعرابی) صاحب</tspan><tspan x="523.5" dy="4.5">کتاب کنز ما ثبت</tspan></text></g>
<g id="n143" class="n"><rect class="bx" x="503" y="648" width="42" height="18" rx="3"/><text class="t" x="524" y="655.5"><tspan x="524">شیخ ابوالقاسم</tspan><tspan x="524" dy="4.5">عبدالله بن حسکا</tspan></text></g>
<g id="n144" class="n"><use href="#doc" x="503" y="671" width="42" height="15" class="doc lg"/><text class="t" x="524" y="678">صاحب زین الفتی</text></g>
<g id="n145" class="n"><rect class="bx" x="573" y="420" width="23" height="38" rx="3"/><text class="t t45" transform="rotate(-90 584.5 439)" x="584.5" y="437.5"><tspan x="584.5">ترتیب</tspan><tspan x="584.5" dy="5.5">مکی</tspan></text></g>
<g id="n146" class="n"><rect class="bx" x="573" y="494" width="23" height="37" rx="3"/><text class="t t45" transform="rotate(-90 584.5 512.5)" x="584.5" y="511"><tspan x="584.5">ترتیب</tspan><tspan x="584.5" dy="5.5">مدنی</tspan></text></g>
<g id="n147" class="n"><rect class="bx" x="632" y="461" width="17" height="37" rx="3"/><text class="t" transform="rotate(-90 640.5 479.5)" x="640.5" y="478.5"><tspan x="640.5">روایات</tspan><tspan x="640.5" dy="4.5">ترتیب نزول</tspan></text></g>
<g id="n148" class="n"><rect class="bx" x="670" y="461" width="18" height="37" rx="3" style="stroke:#7bb33a;stroke-width:1.2"/><text class="t" transform="rotate(-90 679 479.5)" x="679" y="478.5"><tspan x="679">روایات</tspan><tspan x="679" dy="4.5">اهل سنت</tspan></text></g>
<g id="n149" class="n"><rect class="bx" x="715" y="461" width="18" height="37" rx="3"/><text class="t" transform="rotate(-90 724 479.5)" x="724" y="478.5"><tspan x="724">روایات</tspan><tspan x="724" dy="4.5">حسن بصری</tspan></text></g>
<g id="n150" class="n"><rect class="bx" x="777" y="355" width="20" height="35" rx="3"/><text class="t" transform="rotate(-90 787 372.5)" x="787" y="371.5"><tspan x="787">ابوالقاسم</tspan><tspan x="787" dy="4.5">عبدالکریم القشیری</tspan></text></g>
<g id="n151" class="n"><rect class="bx" x="815" y="355" width="18" height="35" rx="3"/><text class="t" transform="rotate(-90 824 372.5)" x="824" y="371.5"><tspan x="824">ابوعبدالله</tspan><tspan x="824" dy="4.5">محمد بن احمد</tspan></text></g>
<g id="n152" class="n"><rect class="bx" x="855" y="355" width="18" height="35" rx="3"/><text class="t" transform="rotate(-90 864 372.5)" x="864" y="371.5"><tspan x="864">ابوالحسن علی</tspan><tspan x="864" dy="4.5">بن محمد</tspan></text></g>
<g id="n153" class="n"><rect class="bx" x="895" y="355" width="18" height="35" rx="3"/><text class="t" transform="rotate(-90 904 372.5)" x="904" y="371.5"><tspan x="904">ابوبکر محمد</tspan><tspan x="904" dy="4.5">بن حسن النقاش</tspan></text></g>
<g id="n154" class="n"><use href="#doc" x="957" y="355" width="23" height="35" class="doc cy"/><text class="t nv" transform="rotate(-90 968.5 370)" x="968.5" y="366.8"><tspan x="968.5">ابن حجر العسقلانی</tspan><tspan x="968.5" dy="4.5">صاحب فتح الباری</tspan><tspan x="968.5" dy="4.5">(۲)</tspan></text></g>
<g id="n155" class="n"><rect class="bx" x="765" y="428" width="22" height="37" rx="3"/><text class="t" transform="rotate(-90 776 446.5)" x="776" y="445.5"><tspan x="776">ابوعمرو عثمان</tspan><tspan x="776" dy="4.5">بن سعید الدانی</tspan></text></g>
<g id="n156" class="n"><rect class="bx" x="802" y="428" width="20" height="37" rx="3"/><text class="t" transform="rotate(-90 812 446.5)" x="812" y="445.5"><tspan x="812">ابوالحسن علی</tspan><tspan x="812" dy="4.5">بن محمد</tspan></text></g>
<g id="n157" class="n"><rect class="bx" x="848" y="428" width="19" height="37" rx="3"/><text class="t" transform="rotate(-90 857.5 446.5)" x="857.5" y="445.5"><tspan x="857.5">ابوبکر احمد</tspan><tspan x="857.5" dy="4.5">بن الحسین</tspan></text></g>
<g id="n158" class="n"><rect class="bx" x="898" y="401" width="20" height="35" rx="3"/><text class="t" transform="rotate(-90 908 418.5)" x="908" y="417.5"><tspan x="908">ابوالحسن</tspan><tspan x="908" dy="4.5">بن علی البیهقی</tspan></text></g>
<g id="n159" class="n"><rect class="bx" x="937" y="400" width="18" height="36" rx="3"/><text class="t" transform="rotate(-90 946 418)" x="946" y="414.8"><tspan x="946">ابوعبدالله</tspan><tspan x="946" dy="4.5">الحاکم</tspan><tspan x="946" dy="4.5">النیسابوری</tspan></text></g>
<g id="n160" class="n"><use href="#doc" x="982" y="400" width="23" height="36" class="doc yl"/><text class="t" transform="rotate(-90 993.5 416)" x="993.5" y="412.8"><tspan x="993.5">بیهقی</tspan><tspan x="993.5" dy="4.5">صاحب دلائل</tspan><tspan x="993.5" dy="4.5">النبوة</tspan></text></g>
<g id="n161" class="n"><rect class="bx" x="898" y="450" width="19" height="37" rx="3"/><text class="t" transform="rotate(-90 907.5 468.5)" x="907.5" y="469.8">ابوالعباس الاصم</text></g>
<g id="n162" class="n"><rect class="bx" x="926" y="450" width="19" height="37" rx="3"/><text class="t" transform="rotate(-90 935.5 468.5)" x="935.5" y="469.8">احمد بن عبدالجبار</text></g>
<g id="n163" class="n"><rect class="bx" x="950" y="450" width="18" height="37" rx="3"/><text class="t" transform="rotate(-90 959 468.5)" x="959" y="469.8">یونس بن بکیر</text></g>
<g id="n164" class="n"><rect class="bx" x="975" y="450" width="17" height="37" rx="3"/><text class="t" transform="rotate(-90 983.5 468.5)" x="983.5" y="469.8">اسباط بن نصر</text></g>
<g id="n165" class="n"><use href="#doc" x="1002" y="450" width="16" height="37" class="doc ht"/><text class="t" transform="rotate(-90 1010 467)" x="1010" y="468.3">ابن اسحاق</text></g>
<g id="n166" class="n"><rect class="bx" x="772" y="491" width="18" height="37" rx="3"/><text class="t" transform="rotate(-90 781 509.5)" x="781" y="508.5"><tspan x="781">ابوالفضل</tspan><tspan x="781" dy="4.5">الرازی</tspan></text></g>
<g id="n167" class="n"><rect class="bx" x="813" y="491" width="17" height="37" rx="3"/><text class="t" transform="rotate(-90 821.5 509.5)" x="821.5" y="506.3"><tspan x="821.5">ابو جعفر</tspan><tspan x="821.5" dy="4.5">النحاس</tspan><tspan x="821.5" dy="4.5">صاحب الناسخ</tspan></text></g>
<g id="n168" class="n"><rect class="hb" x="848" y="491" width="24" height="37"/><text class="t" transform="rotate(-90 860 509.5)" x="860" y="506.3"><tspan x="860">ابن عطیه</tspan><tspan x="860" dy="4.5">صاحب</tspan><tspan x="860" dy="4.5">المحرر الوجیز</tspan></text></g>
<g id="n169" class="n"><rect class="bx" x="772" y="539" width="20" height="37" rx="3"/><text class="t" transform="rotate(-90 782 557.5)" x="782" y="556.5"><tspan x="782">ابوالقاسم</tspan><tspan x="782" dy="4.5">الحسکانی</tspan></text></g>
<g id="n170" class="n"><rect class="bx" x="803" y="539" width="19" height="37" rx="3"/><text class="t" transform="rotate(-90 812.5 557.5)" x="812.5" y="556.5"><tspan x="812.5">محمد بن</tspan><tspan x="812.5" dy="4.5">احمد الحافظ</tspan></text></g>
<g id="n171" class="n"><rect class="bx" x="833" y="539" width="19" height="37" rx="3"/><text class="t" transform="rotate(-90 842.5 557.5)" x="842.5" y="556.5"><tspan x="842.5">ابو نصر</tspan><tspan x="842.5" dy="4.5">احمد بن علی</tspan></text></g>
<g id="n172" class="n"><rect class="bx" x="865" y="539" width="18" height="37" rx="3"/><text class="t t45" transform="rotate(-90 874 557.5)" x="874" y="556.5"><tspan x="874">احمد بن</tspan><tspan x="874" dy="4.5">سلمان</tspan></text></g>
<g id="n173" class="n"><rect class="bx" x="897" y="539" width="18" height="37" rx="3"/><text class="t" transform="rotate(-90 906 557.5)" x="906" y="556.5"><tspan x="906">ابو بکر</tspan><tspan x="906" dy="4.5">الجرجانی</tspan></text></g>
<g id="n174" class="n"><use href="#doc" x="935" y="541" width="23" height="33" class="doc dg"/><text class="t w" transform="rotate(-90 946.5 556)" x="946.5" y="552.8"><tspan x="946.5">الکرمانی</tspan><tspan x="946.5" dy="4.5">صاحب</tspan><tspan x="946.5" dy="4.5">غرائب التفسیر</tspan></text></g>
<g id="n175" class="n"><rect class="bx" x="750" y="591" width="48" height="17" rx="3"/><text class="t" x="774" y="598"><tspan x="774">ابوالقاسم محمد بن احمد</tspan><tspan x="774" dy="4.5">القطرانی (الساطلی)</tspan></text></g>
<g id="n176" class="n"><rect class="bx" x="750" y="621" width="48" height="15" rx="3"/><text class="t" x="774" y="627"><tspan x="774">ابوالحسن محمد بن احمد</tspan><tspan x="774" dy="4.5">بن محمد الحیری</tspan></text></g>
<g id="n177" class="n"><rect class="pd" x="745" y="649" width="55" height="19" rx="3"/><text class="t" x="772.5" y="655.5"><tspan x="772.5">ثعلبی ابواسحاق احمد بن</tspan><tspan x="772.5" dy="4.5">محمد صاحب الکشف</tspan><tspan x="772.5" dy="4.5">والبیان</tspan></text></g>
<g id="n178" class="n"><rect class="hb" x="745" y="679" width="55" height="15"/><text class="t" x="772.5" y="685"><tspan x="772.5">مکی بن ابی طالب</tspan><tspan x="772.5" dy="4.5">القیسی صاحب التبصرة</tspan></text></g>
<g id="n179" class="n"><rect class="hb" x="745" y="708" width="55" height="18"/><text class="t" x="772.5" y="715"><tspan x="772.5">علی بن احمد الواحدی</tspan><tspan x="772.5" dy="4.5">صاحب کتاب النزول</tspan></text></g>
<g id="n180" class="n"><use href="#doc" x="823" y="614" width="44" height="19" class="doc lb"/><text class="t t45 nv" x="845" y="621"><tspan x="845">زرکشی، صاحب البرهان</tspan><tspan x="845" dy="5">فی علوم القرآن</tspan></text></g>
<g id="n181" class="n"><use href="#doc" x="823" y="649" width="44" height="17" class="doc ht" style="stroke:#3a8a5a"/><text class="t t5" x="845" y="655.5"><tspan x="845">فیروزآبادی، صاحب</tspan><tspan x="845" dy="5.3">بصائر ذوی التمییز</tspan></text></g>
<g id="n182" class="n"><use href="#doc" x="823" y="679" width="44" height="20" class="doc ht"/><text class="t t5" x="845" y="686"><tspan x="845">جعبری، صاحب</tspan><tspan x="845" dy="5.5">امتاع الاسماع</tspan></text></g>
<g id="n183" class="n"><use href="#doc" x="693" y="613" width="34" height="20" class="doc lb"/><text class="t nv" x="710" y="620"><tspan x="710">حسکانی نیشابوری،</tspan><tspan x="710" dy="4.5">صاحب شواهد التنزیل</tspan></text></g>
<g id="n184" class="n"><use href="#doc" x="697" y="649" width="43" height="20" class="doc pk"/><text class="t t45" x="718.5" y="656"><tspan x="718.5">الشهرستانی، صاحب</tspan><tspan x="718.5" dy="5">تفسیر</tspan></text></g>
<g id="n185" class="n"><use href="#doc" x="695" y="679" width="45" height="20" class="doc ht"/><text class="t t45" x="717.5" y="686"><tspan x="717.5">جمال کثری، صاحب</tspan><tspan x="717.5" dy="5">التاریخ الجمیلی</tspan></text></g>
</svg>
